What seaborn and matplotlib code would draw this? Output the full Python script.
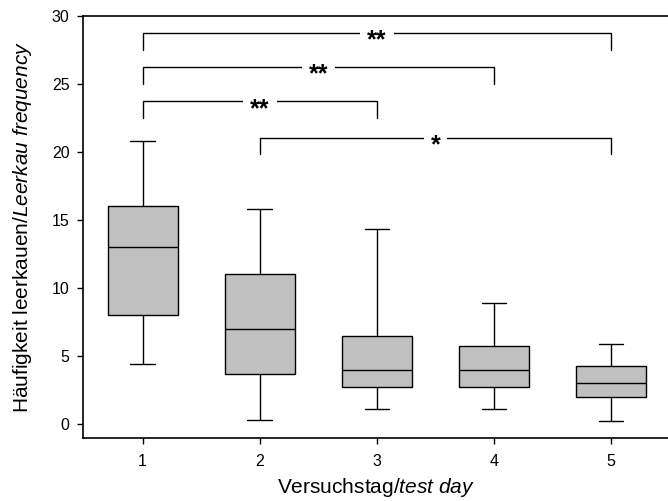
import pandas as pd
import matplotlib
matplotlib.use("Agg")
import matplotlib.pyplot as plt
import seaborn as sns

# box statistics (per test day)
days = ["1", "2", "3", "4", "5"]
whisker_lo = [4.4, 0.3, 1.1, 1.1, 0.2]
q1 = [8.0, 3.7, 2.75, 2.75, 2.0]
median = [13.0, 7.0, 4.0, 4.0, 3.0]
q3 = [16.0, 11.0, 6.5, 5.75, 4.25]
whisker_hi = [20.8, 15.8, 14.3, 8.9, 5.9]

# significance brackets: (from day, to day), bar height, label
bracket_pairs = [("1", "5"), ("1", "4"), ("1", "3"), ("2", "5")]
bracket_heights = [28.7, 26.2, 23.7, 21.0]
bracket_labels = ["**", "**", "**", "*"]


def main():
    # five points per day -> quartiles by linear percentile, whiskers at min/max
    rows = []
    for i, d in enumerate(days):
        for v in (whisker_lo[i], q1[i], median[i], q3[i], whisker_hi[i]):
            rows.append({"day": d, "value": v})
    df = pd.DataFrame(rows)

    sns.set_style("ticks")
    plt.rcParams["font.family"] = ["Liberation Sans", "DejaVu Sans"]
    plt.rcParams["mathtext.fontset"] = "custom"
    plt.rcParams["mathtext.rm"] = "Liberation Sans"
    plt.rcParams["mathtext.it"] = "Liberation Sans:italic"

    fig, ax = plt.subplots(figsize=(6.68, 5.01), dpi=100)
    fig.subplots_adjust(left=0.1247, right=1.0, bottom=0.1263, top=0.969)

    sns.boxplot(data=df, x="day", y="value", order=days, whis=(0, 100),
                width=0.6, color="#c0c0c0", linecolor="black", linewidth=1.0,
                capwidths=0.21, ax=ax)

    pos = {d: i for i, d in enumerate(days)}
    drop = 1.2
    for (a, b), h, lab in zip(bracket_pairs, bracket_heights, bracket_labels):
        xa, xb = pos[a], pos[b]
        ax.plot([xa, xa, xb, xb], [h - drop, h, h, h - drop],
                color="black", lw=1.0, solid_joinstyle="miter")
        ax.text((xa + xb) / 2, h - 0.55, lab, ha="center", va="center",
                fontsize=18, fontweight="bold", color="black",
                bbox=dict(facecolor="white", edgecolor="none", pad=5))

    ax.set_xlim(-0.507, 4.486)
    ax.set_ylim(-1, 30)
    ax.set_yticks(range(0, 31, 5))
    ax.set_xlabel(r"Versuchstag/$\mathit{test\ day}$", fontsize=15, labelpad=5,
                  color="black")
    ax.set_ylabel(r"Häufigkeit leerkauen/$\mathit{Leerkau\ frequency}$",
                  fontsize=15, labelpad=13, color="black")
    ax.tick_params(axis="both", labelsize=11.5, length=4, width=1.0,
                   color="black", labelcolor="black")
    ax.tick_params(axis="x", pad=8)
    ax.tick_params(axis="y", pad=6)
    for s in ["left", "bottom", "top"]:
        ax.spines[s].set_visible(True)
        ax.spines[s].set_color("black")
        ax.spines[s].set_linewidth(1.2)
    ax.spines["right"].set_visible(False)

    fig.savefig("out.png", dpi=100)


if __name__ == "__main__":
    main()
